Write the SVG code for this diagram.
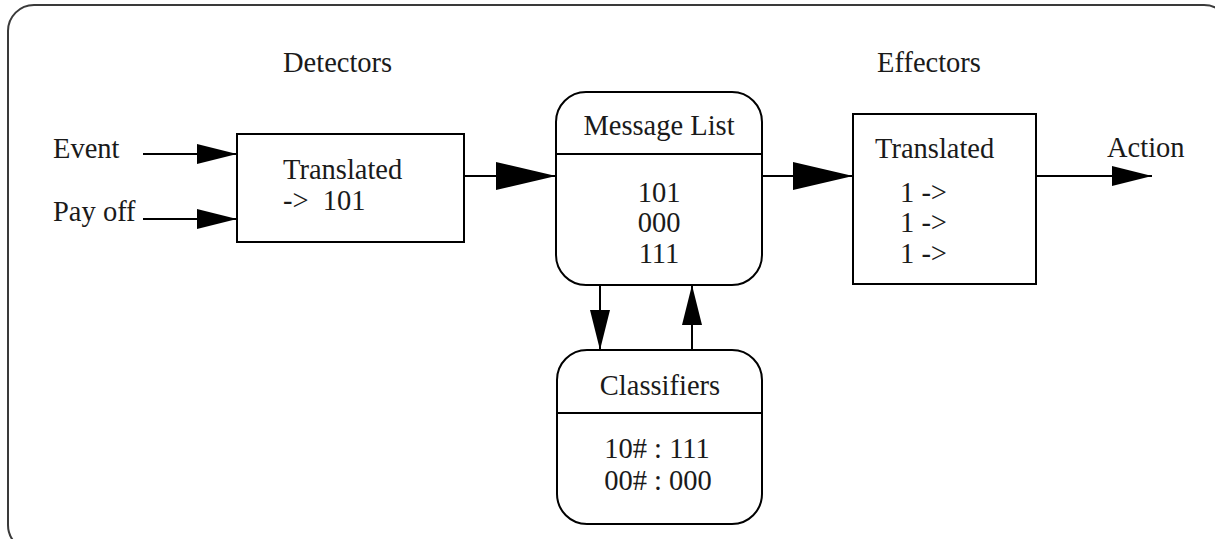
<svg xmlns="http://www.w3.org/2000/svg" width="1215" height="539" viewBox="0 0 1215 539">
  <style>
    .frame { fill: none; stroke: #3a3a3a; stroke-width: 2; }
    .box { fill: #ffffff; stroke: #000000; stroke-width: 2; }
    .div { stroke: #000000; stroke-width: 2; }
    .edge { fill: none; stroke: #000000; stroke-width: 2; }
    text { font-family: "Liberation Serif", "Times New Roman", serif; font-size: 28.5px; fill: #1a1a1a; }
    .c { text-anchor: middle; }
  </style>
  <defs>
    <marker id="headBig" markerUnits="userSpaceOnUse" viewBox="0 0 60 28" markerWidth="60" markerHeight="28" refX="60" refY="14" orient="auto">
      <path d="M0,0 L60,14 L0,28 Z" fill="#000000"/>
    </marker>
    <marker id="headSmall" markerUnits="userSpaceOnUse" viewBox="0 0 40 20" markerWidth="40" markerHeight="20" refX="40" refY="10" orient="auto">
      <path d="M0,0 L40,10 L0,20 Z" fill="#000000"/>
    </marker>
  </defs>

  <!-- outer frame -->
  <rect class="frame" x="8" y="5" width="1222" height="546" rx="26" ry="26"/>

  <!-- free labels -->
  <g id="labels">
    <text x="283" y="72">Detectors</text>
    <text x="877" y="72">Effectors</text>
    <text x="53" y="158">Event</text>
    <text x="53" y="221">Pay off</text>
    <text x="1107" y="157">Action</text>
  </g>

  <!-- detectors: input translation -->
  <g id="detectors">
    <rect class="box" x="237" y="134" width="227" height="108"/>
    <text x="283" y="179">Translated</text>
    <text x="283" y="210" xml:space="preserve">-&gt;  101</text>
  </g>

  <!-- message list -->
  <g id="message-list">
    <rect class="box" x="556" y="92" width="206" height="193" rx="30" ry="30"/>
    <line class="div" x1="556" y1="154" x2="762" y2="154"/>
    <text class="c" x="659" y="135">Message List</text>
    <text class="c" x="659" y="202">101</text>
    <text class="c" x="659" y="232">000</text>
    <text class="c" x="659" y="263">111</text>
  </g>

  <!-- effectors: output translation -->
  <g id="effectors">
    <rect class="box" x="853" y="114" width="183" height="170"/>
    <text x="875" y="158">Translated</text>
    <text x="900" y="202">1 -&gt;</text>
    <text x="900" y="232">1 -&gt;</text>
    <text x="900" y="263">1 -&gt;</text>
  </g>

  <!-- classifiers -->
  <g id="classifiers">
    <rect class="box" x="557" y="350" width="205" height="174" rx="30" ry="30"/>
    <line class="div" x1="557" y1="413" x2="762" y2="413"/>
    <text class="c" x="660" y="395">Classifiers</text>
    <text class="c" x="657" y="458">10# : 111</text>
    <text class="c" x="658" y="490">00# : 000</text>
  </g>

  <!-- connectors -->
  <g id="connectors">
    <line class="edge" x1="143" y1="154" x2="237" y2="154" marker-end="url(#headSmall)"/>
    <line class="edge" x1="143" y1="219" x2="237" y2="219" marker-end="url(#headSmall)"/>
    <line class="edge" x1="464" y1="176" x2="556" y2="176" marker-end="url(#headBig)"/>
    <line class="edge" x1="762" y1="176" x2="853" y2="176" marker-end="url(#headBig)"/>
    <line class="edge" x1="1036" y1="176" x2="1152" y2="176" marker-end="url(#headSmall)"/>
    <line class="edge" x1="600" y1="285" x2="600" y2="350" marker-end="url(#headSmall)"/>
    <line class="edge" x1="692" y1="350" x2="692" y2="285" marker-end="url(#headSmall)"/>
  </g>
</svg>
